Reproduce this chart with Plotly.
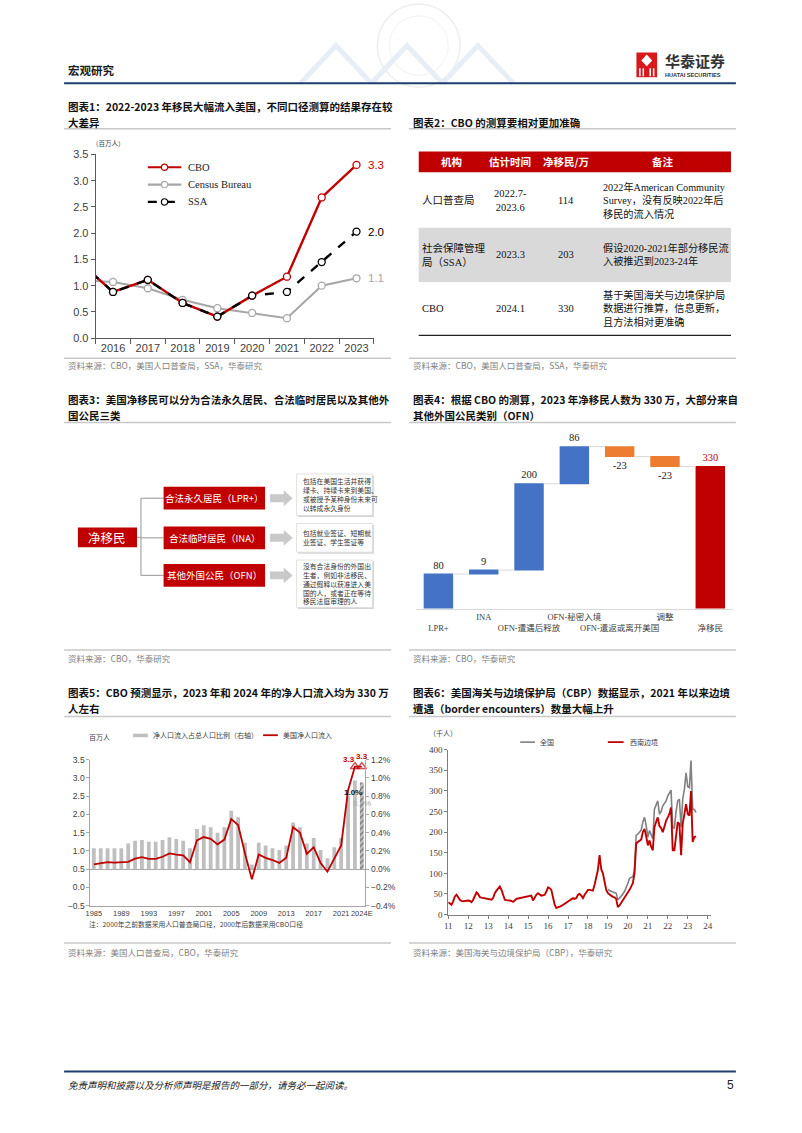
import plotly.graph_objects as go
import pandas as pd

W, H = 802, 1133
def X(px): return px / W
def Y(py): return 1 - py / H

SANS = "Noto Sans CJK SC, Noto Sans, sans-serif"
ARIAL = "Liberation Sans, Arial, Noto Sans CJK SC, sans-serif"
SERIF = "Liberation Serif, Times New Roman, Noto Sans CJK SC, serif"
RED = "#C00000"
GRAY_TXT = "#7F7F7F"
NAVY = "#1F3D6E"
SEP = "#C8C8C8"

# ---------------- data ----------------
# Chart 1 (millions)
c1_years = [2015, 2016, 2017, 2018, 2019, 2020, 2021, 2022, 2023]
c1_cbo = [1.47, 0.88, 1.11, 0.67, 0.41, 0.81, 1.17, 2.68, 3.30]
c1_census = [1.11, 1.07, 0.95, 0.73, 0.57, 0.48, 0.38, 1.00, 1.14]
c1_ssa = [1.47, 0.88, 1.11, 0.67, 0.41, 0.81, 0.88, 1.45, 2.03]
c1_tick_years = [2016, 2017, 2018, 2019, 2020, 2021, 2022, 2023]
c1_names = ["CBO", "Census Bureau", "SSA"]

# Chart 2 table
tbl_head = ["机构", "估计时间", "净移民/万", "备注"]
tbl_org = ["人口普查局", "社会保障管理<br>局（SSA）", "CBO"]
tbl_time = ["2022.7-<br>2023.6", "2023.3", "2024.1"]
tbl_net = [114, 203, 330]
tbl_note = ["2022年American Community<br>Survey，没有反映2022年后<br>移民的流入情况",
            "假设2020-2021年部分移民流<br>入被推迟到2023-24年",
            "基于美国海关与边境保护局<br>数据进行推算，信息更新，<br>且方法相对更准确"]

# Chart 3 diagram texts
d_root = "净移民"
d_cats = ["合法永久居民（LPR+）", "合法临时居民（INA）", "其他外国公民（OFN）"]
d_desc = ["包括在美国生活并获得<br>绿卡、持绿卡来到美国、<br>或被授予某种身份未来可<br>以转成永久身份",
          "包括就业签证、短期就<br>业签证、学生签证等",
          "没有合法身份的外国出<br>生者，例如非法移民、<br>通过假释以获准进入美<br>国的人，或者正在等待<br>移民法庭审理的人"]

# Chart 4 waterfall (10k persons)
c4_cats = ["LPR+", "INA", "OFN-遭遇后释放", "OFN-秘密入境", "OFN-遣返或离开美国", "调整", "净移民"]
c4_vals = [80, 9, 200, 86, -23, -23, 330]
c4_measure = ["relative", "relative", "relative", "relative", "relative", "relative", "total"]

# Chart 5
c5_years = list(range(1985, 2025))
c5_share = [0.23, 0.23, 0.23, 0.23, 0.23, 0.28, 0.31, 0.32, 0.30, 0.30,
            0.32, 0.35, 0.33, 0.31, 0.23, 0.44, 0.48, 0.46, 0.40, 0.46,
            0.64, 0.57, 0.29, 0.05, 0.29, 0.26, 0.23, 0.21, 0.26, 0.51,
            0.46, 0.28, 0.34, 0.21, 0.12, 0.24, 0.34, 0.80, 0.97, 0.95]
c5_inflow = [0.63, 0.67, 0.69, 0.68, 0.68, 0.70, 0.79, 0.83, 0.78, 0.78,
             0.84, 0.93, 0.90, 0.88, 0.69, 1.29, 1.38, 1.33, 1.18, 1.31,
             1.87, 1.71, 0.93, 0.22, 0.90, 0.81, 0.75, 0.67, 0.81, 1.65,
             1.50, 0.92, 1.10, 0.67, 0.43, 0.77, 1.15, 2.66, 3.31, 3.31]
c5_tickvals = [1985, 1989, 1993, 1997, 2001, 2005, 2009, 2013, 2017, 2021, 2024]
c5_ticktext = ["1985", "1989", "1993", "1997", "2001", "2005", "2009", "2013", "2017", "2021", "2024E"]

# Chart 6 (thousand persons, monthly)
c6_sw = [30, 27, 24, 32, 44, 48, 42, 36, 33, 32, 33, 34,
         34, 33, 30, 36, 46, 54, 50, 42, 41, 40, 39, 38,
         38, 37, 36, 40, 52, 58, 64, 68, 60, 46, 36, 35,
         35, 34, 33, 31, 34, 38, 39, 40, 40, 41, 42, 44,
         45, 46, 46, 34, 42, 48, 52, 50, 46, 47, 48, 56,
         66, 64, 60, 42, 24, 16, 17, 19, 21, 24, 26, 28,
         31, 34, 37, 40, 38, 40, 48, 50, 46, 40, 48, 55,
         60, 60, 59, 58, 72, 90, 108, 144, 110, 100, 75, 60,
         52, 48, 46, 43, 42, 38, 18, 22, 28, 34, 40, 46,
         52, 60, 68, 76, 100, 172, 176, 180, 182, 200, 208, 190,
         168, 180, 165, 156, 212, 225, 236, 215, 210, 200, 215, 228,
         236, 245, 260, 156, 156, 200, 224, 220, 144, 220, 250, 268,
         244, 240, 300, 176, 188, 190]
c6_nat = [60, 58, 55, 54, 53, 52, 36, 40, 44, 50, 56, 64,
          76, 88, 90, 92, 108, 192, 195, 200, 205, 225, 236, 216,
          188, 204, 195, 184, 256, 266, 276, 244, 250, 264, 270, 276,
          288, 295, 302, 210, 210, 250, 276, 280, 212, 280, 304, 344,
          310, 308, 374, 256, 255, 248]
c6_sw_dates = pd.date_range("2011-01-01", periods=len(c6_sw), freq="MS")
c6_nat_dates = pd.date_range("2019-01-01", periods=len(c6_nat), freq="MS")

# ---------------- helpers ----------------
ann = []
shapes = []

def T(x, y, text, size=10, color="#000", anchor="left", yanchor="middle", family=SANS, **kw):
    ann.append(dict(x=X(x), y=Y(y), xref="paper", yref="paper", text=text, showarrow=False,
                    xanchor=anchor, yanchor=yanchor, align=kw.pop("align", anchor if anchor != "center" else "center"),
                    font=dict(size=size, color=color, family=family), **kw))

def L(x0, y0, x1, y1, color, width=1, dash=None):
    shapes.append(dict(type="line", xref="paper", yref="paper", x0=X(x0), y0=Y(y0), x1=X(x1), y1=Y(y1),
                       line=dict(color=color, width=width, dash=dash)))

def R(x0, y0, x1, y1, fill, line=None, width=0):
    shapes.append(dict(type="rect", xref="paper", yref="paper", x0=X(x0), y0=Y(y0), x1=X(x1), y1=Y(y1),
                       fillcolor=fill, line=dict(color=line or fill, width=width)))

def P(points, fill=None, color=None, width=0, closed=True):
    d = "M " + " L ".join(f"{X(a):.5f},{Y(b):.5f}" for a, b in points) + (" Z" if closed else "")
    shapes.append(dict(type="path", xref="paper", yref="paper", path=d,
                       fillcolor=fill if fill else "rgba(0,0,0,0)", line=dict(color=color or "rgba(0,0,0,0)", width=width)))

def C(cx, cy, r, fill, color, width=1):
    shapes.append(dict(type="circle", xref="paper", yref="paper", x0=X(cx - r), x1=X(cx + r),
                       y0=Y(cy + r), y1=Y(cy - r), fillcolor=fill, line=dict(color=color, width=width)))

# ---------------- page header / footer ----------------
C(420, 40, 42, "rgba(0,0,0,0)", "#EDEDED", 1.5)
C(420, 40, 30, "rgba(0,0,0,0)", "#F2F2F2", 1)
for (a, b) in [(300, 372), (372, 444), (444, 516)]:
    P([(a, 78), ((a + b) / 2, 40), (b, 78)], None, "#E8EEF6", 5, closed=False)
T(62, 65, "<b>宏观研究</b>", size=11.5, color="#1A1A1A")
L(60, 78, 742, 78, NAVY, 2)
R(641, 47, 662, 72, "#D7191C")
P([(651.5, 49), (657, 55), (651.5, 61), (646, 55)], "white", None)
for xx in [644.5, 648, 655, 658.5]:
    L(xx, 63, xx, 71, "white", 1.5)
T(668, 55, "<b>华泰证券</b>", size=15, color="#333333")
T(668.5, 69.5, "<b>HUATAI SECURITIES</b>", size=5.6, color="#333333", family=ARIAL)
L(60, 1077, 742, 1077, NAVY, 2)
T(62, 1091, "<i>免责声明和披露以及分析师声明是报告的一部分，请务必一起阅读。</i>", size=9.5, color="#222")
T(742, 1091, "5", size=12, color="#222", anchor="right", family=ARIAL)

# ---------------- titles & separators ----------------
def title(x, ys, lines):
    for yy, tx in zip(ys, lines):
        T(x, yy, "<b>" + tx + "</b>", size=10.5, color="#111")

title(62, [102, 118], ["图表1：2022-2023 年移民大幅流入美国，不同口径测算的结果存在较", "大差异"])
title(412, [118], ["图表2：CBO 的测算要相对更加准确"])
title(62, [398, 414], ["图表3：美国净移民可以分为合法永久居民、合法临时居民以及其他外", "国公民三类"])
title(412, [398, 414], ["图表4：根据 CBO 的测算，2023 年净移民人数为 330 万，大部分来自", "其他外国公民类别（OFN）"])
title(62, [694, 710], ["图表5：CBO 预测显示，2023 年和 2024 年的净人口流入均为 330 万", "人左右"])
title(412, [694, 710], ["图表6：美国海关与边境保护局（CBP）数据显示，2021 年以来边境", "遭遇（border encounters）数量大幅上升"])

for yy in [124, 421, 718, 356, 651, 947]:
    L(60, yy, 392, yy, SEP, 1.5)
    L(410, yy, 742, yy, SEP, 1.5)

src = [(62, 363, "资料来源：CBO，美国人口普查局，SSA，华泰研究"),
       (412, 363, "资料来源：CBO，美国人口普查局，SSA，华泰研究"),
       (62, 659, "资料来源：CBO，华泰研究"),
       (412, 659, "资料来源：CBO，华泰研究"),
       (62, 956, "资料来源：美国人口普查局，CBO，华泰研究"),
       (412, 956, "资料来源：美国海关与边境保护局（CBP），华泰研究")]
for x, y, t in src:
    T(x, y, t, size=8.5, color=GRAY_TXT)

fig = go.Figure()

# ---------------- Chart 1 ----------------
c1_col = {"CBO": RED, "Census Bureau": "#A6A6A6", "SSA": "#000000"}
for name, vals, dash, w in [("Census Bureau", c1_census, "solid", 2), ("CBO", c1_cbo, "solid", 2.4), ("SSA", c1_ssa, "dash", 2.4)]:
    fig.add_trace(go.Scatter(x=c1_years, y=vals, mode="lines+markers", name=name, xaxis="x", yaxis="y",
                             line=dict(color=c1_col[name], width=w, dash=dash),
                             marker=dict(symbol="circle", size=7, color="white", line=dict(color=c1_col[name], width=1.3)),
                             cliponaxis=True, showlegend=False))
for name, vals in [("CBO", c1_cbo), ("SSA", c1_ssa), ("Census Bureau", c1_census)]:
    ann.append(dict(x=c1_years[-1], y=vals[-1], xref="x", yref="y", text=f"{vals[-1]:.1f}", showarrow=False,
                    xshift=19, font=dict(size=11.5, color=c1_col[name], family=ARIAL)))
for i, name in enumerate(c1_names):
    yy = 163 + i * 17.5
    L(145, yy, 179, yy, c1_col[name], 2.2, "dash" if name == "SSA" else None)
    C(162, yy, 3.2, "white", c1_col[name], 1.2)
    T(184, yy, name, size=10.5, color="#222", family=SERIF)
T(86, 138, "（百万人）", size=6.5, color="#404040")

# ---------------- Chart 2 table ----------------
R(420, 147, 737, 168, RED)
for cx, h in zip([453, 513, 570, 668], tbl_head):
    T(cx, 157.5, "<b>" + h + "</b>", size=10.5, color="white", anchor="center")
row_top = [169, 224, 279]
row_bot = [224, 279, 333]
R(420, 224, 737, 279, "#D9D9D9")
for i in range(3):
    cy = (row_top[i] + row_bot[i]) / 2
    T(421, cy, tbl_org[i], size=10.5, color="#111", family=SERIF)
    T(513, cy, tbl_time[i], size=10.5, color="#111", anchor="center", family=SERIF)
    T(570, cy, str(tbl_net[i]), size=10.5, color="#111", anchor="center", family=SERIF)
    T(605, cy, tbl_note[i], size=10.2, color="#111", family=SERIF)
L(420, 333, 737, 333, "#222", 1.3)

# ---------------- Chart 3 diagram ----------------
box_y = [(486, 509), (526, 549), (564, 587)]
R(74, 527, 134, 547, RED)
T(104, 537, d_root, size=12.5, color="white", anchor="center")
L(134, 537, 138, 537, "#A6A6A6", 1.2)
L(138, 497.5, 138, 575.5, "#A6A6A6", 1.2)
desc_y = [(473, 515), (523, 552), (560, 608)]
for (t0, t1), cat, (d0, d1), desc in zip(box_y, d_cats, desc_y, d_desc):
    cy = (t0 + t1) / 2
    L(138, cy, 161, cy, "#A6A6A6", 1.2)
    R(161, t0, 264, t1, RED)
    T(212.5, cy, cat, size=9.5, color="white", anchor="center")
    P([(269, cy - 4), (283, cy - 4), (283, cy - 8), (292, cy), (283, cy + 8), (283, cy + 4), (269, cy + 4)], "#C9C9C9", None)
    R(297.5, d0 + 1.5, 374.5, d1 + 1.5, "#D4D4D4")
    R(296, d0, 373, d1, "white", "#DADADA", 0.8)
    T(300, (d0 + d1) / 2, desc, size=6.8, color="#333")

# ---------------- Chart 4 waterfall ----------------
c4_text = [str(v) for v in c4_vals]
c4_tcol = ["#222"] * (len(c4_vals) - 1) + [RED]
fig.add_trace(go.Waterfall(x=c4_cats, y=c4_vals, measure=c4_measure, xaxis="x2", yaxis="y2",
                           text=c4_text, textposition="outside", cliponaxis=False,
                           textfont=dict(family=SERIF, size=10.5, color=c4_tcol),
                           increasing=dict(marker=dict(color="#4472C4")),
                           decreasing=dict(marker=dict(color="#ED7D31")),
                           totals=dict(marker=dict(color=RED)),
                           connector=dict(line=dict(color="#D9D9D9", width=1)),
                           showlegend=False))
c4_ticktext = [("<br>" + c if i % 2 == 0 else c) for i, c in enumerate(c4_cats)]

# ---------------- Chart 5 ----------------
c5_colors = ["#BFBFBF"] * len(c5_years)
c5_pattern = [""] * (len(c5_years) - 1) + ["/"]
fig.add_trace(go.Bar(x=c5_years, y=c5_share, xaxis="x3", yaxis="y3", width=0.55,
                     marker=dict(color=c5_colors, line=dict(width=0),
                                 pattern=dict(shape=c5_pattern, fgcolor="#BFBFBF", bgcolor="white", size=4, solidity=0.45)),
                     showlegend=False))
c5_msize = [0] * (len(c5_years) - 2) + [8, 8]
fig.add_trace(go.Scatter(x=c5_years, y=c5_inflow, xaxis="x3", yaxis="y4", mode="lines+markers",
                         line=dict(color=RED, width=1.8),
                         marker=dict(symbol="triangle-up-open", size=c5_msize, color=RED, line=dict(width=1.4, color=RED)),
                         showlegend=False, cliponaxis=False))
ann.append(dict(x=c5_years[-2], y=c5_inflow[-2], xref="x3", yref="y4", text="<b>%.1f</b>" % c5_inflow[-2], showarrow=False,
                xshift=-6, yshift=7, font=dict(size=8, color=RED, family=ARIAL)))
ann.append(dict(x=c5_years[-1], y=c5_inflow[-1], xref="x3", yref="y4", text="<b>%.1f</b>" % c5_inflow[-1], showarrow=False,
                xshift=0, yshift=10, font=dict(size=8, color=RED, family=ARIAL)))
ann.append(dict(x=c5_years[-2], y=c5_share[-2], xref="x3", yref="y3", text="<b>%.1f%%</b>" % c5_share[-2], showarrow=False,
                xshift=-2, yshift=-12, font=dict(size=8, color="#111", family=ARIAL)))
ann.append(dict(x=c5_years[-1], y=c5_share[-1], xref="x3", yref="y3", text="%.1f%%" % c5_share[-1], showarrow=False,
                xshift=0, yshift=-21, font=dict(size=8, color="#A6A6A6", family=ARIAL)))
T(83, 739, "百万人", size=7, color="#404040")
R(130, 735.5, 145, 739, "#BFBFBF")
T(148, 737, "净人口流入占总人口比例（右轴）", size=7, color="#404040")
L(262, 737, 277, 737, RED, 1.8)
T(280, 737, "美国净人口流入", size=7, color="#404040")
T(83, 928, "注：2000年之前数据采用人口普查局口径，2000年后数据采用CBO口径", size=6.8, color="#404040")

# ---------------- Chart 6 ----------------
fig.add_trace(go.Scatter(x=c6_nat_dates, y=c6_nat, xaxis="x5", yaxis="y5", mode="lines",
                         line=dict(color="#808080", width=1.6), showlegend=False))
fig.add_trace(go.Scatter(x=c6_sw_dates, y=c6_sw, xaxis="x5", yaxis="y5", mode="lines",
                         line=dict(color=RED, width=1.9), showlegend=False))
T(428, 735, "（千人）", size=7, color="#404040")
L(523, 744, 538, 744, "#808080", 1.6)
T(541, 744, "全国", size=7, color="#404040")
L(612, 744, 628, 744, RED, 1.8)
T(632, 744, "西南边境", size=7, color="#404040")

# ---------------- layout ----------------
axfont = dict(family=ARIAL, size=11, color="#404040")
fig.update_layout(
    width=W, height=H, margin=dict(l=0, r=0, t=0, b=0),
    paper_bgcolor="white", plot_bgcolor="white", showlegend=False,
    waterfallgap=0.35, bargap=0.3,
    xaxis=dict(domain=[X(92), X(374.5)], range=[2015.5, 2023.5], anchor="y",
               tickvals=c1_tick_years, ticks="", showline=True, linecolor="#595959", linewidth=1,
               showgrid=False, zeroline=False, tickfont=axfont, tickangle=0,
               minor=dict(tickvals=[v - 0.5 for v in c1_tick_years] + [c1_tick_years[-1] + 0.5],
                          ticks="outside", ticklen=5, tickcolor="#595959")),
    yaxis=dict(domain=[Y(335.7), Y(150)], range=[0, 3.5], dtick=0.5, tickformat=".1f", anchor="x",
               showline=True, linecolor="#595959", ticks="outside", ticklen=4, tickcolor="#595959",
               showgrid=False, zeroline=False, tickfont=axfont),
    xaxis2=dict(domain=[X(417), X(739)], anchor="y2", type="category", tickvals=c4_cats, ticktext=c4_ticktext,
                showline=True, linecolor="#D9D9D9", ticks="", showgrid=False, tickangle=0,
                tickfont=dict(family=SERIF, size=8.5, color="#404040")),
    yaxis2=dict(domain=[Y(609), Y(609 - 400 * 0.4364)], range=[0, 400], anchor="x2", visible=False),
    xaxis3=dict(domain=[X(86.7), X(365.7)], range=[1984.5, 2024.5], anchor="y3",
                tickvals=c5_tickvals, ticktext=c5_ticktext, showline=True, linecolor="#A6A6A6",
                ticks="", showgrid=False, zeroline=False, tickangle=0,
                tickfont=dict(family=ARIAL, size=7.5, color="#404040")),
    yaxis3=dict(domain=[Y(909.3), Y(761.7)], range=[-0.4, 1.2], dtick=0.2, tickformat=".1f", ticksuffix="%",
                side="right", anchor="x3", showline=True, linecolor="#A6A6A6", ticks="outside", ticklen=3,
                tickcolor="#A6A6A6", showgrid=False, zeroline=True, zerolinecolor="#A6A6A6", zerolinewidth=1,
                tickfont=dict(family=ARIAL, size=8.5, color="#404040")),
    yaxis4=dict(range=[-0.5, 3.5], dtick=0.5, tickformat=".1f", overlaying="y3", side="left", anchor="x3",
                showline=True, linecolor="#A6A6A6", ticks="outside", ticklen=3, tickcolor="#A6A6A6",
                showgrid=False, zeroline=False, tickfont=dict(family=ARIAL, size=8.5, color="#404040")),
    xaxis5=dict(domain=[X(450), X(716.7)], type="date", range=["2011-01-01", "2024-03-01"], anchor="y5",
                dtick="M12", tickformat="%y", ticks="outside", ticklen=3, tickcolor="#7F7F7F", tickangle=0,
                showline=True, linecolor="#7F7F7F", showgrid=False, zeroline=False,
                tickfont=dict(family=SERIF, size=9, color="#404040")),
    yaxis5=dict(domain=[Y(918.3), Y(751.7)], range=[0, 400], dtick=50, anchor="x5",
                showline=True, linecolor="#7F7F7F", ticks="outside", ticklen=3, tickcolor="#7F7F7F",
                showgrid=False, zeroline=False, tickfont=dict(family=SERIF, size=9, color="#404040")),
    annotations=ann, shapes=shapes,
)

fig.write_html("out.html")
